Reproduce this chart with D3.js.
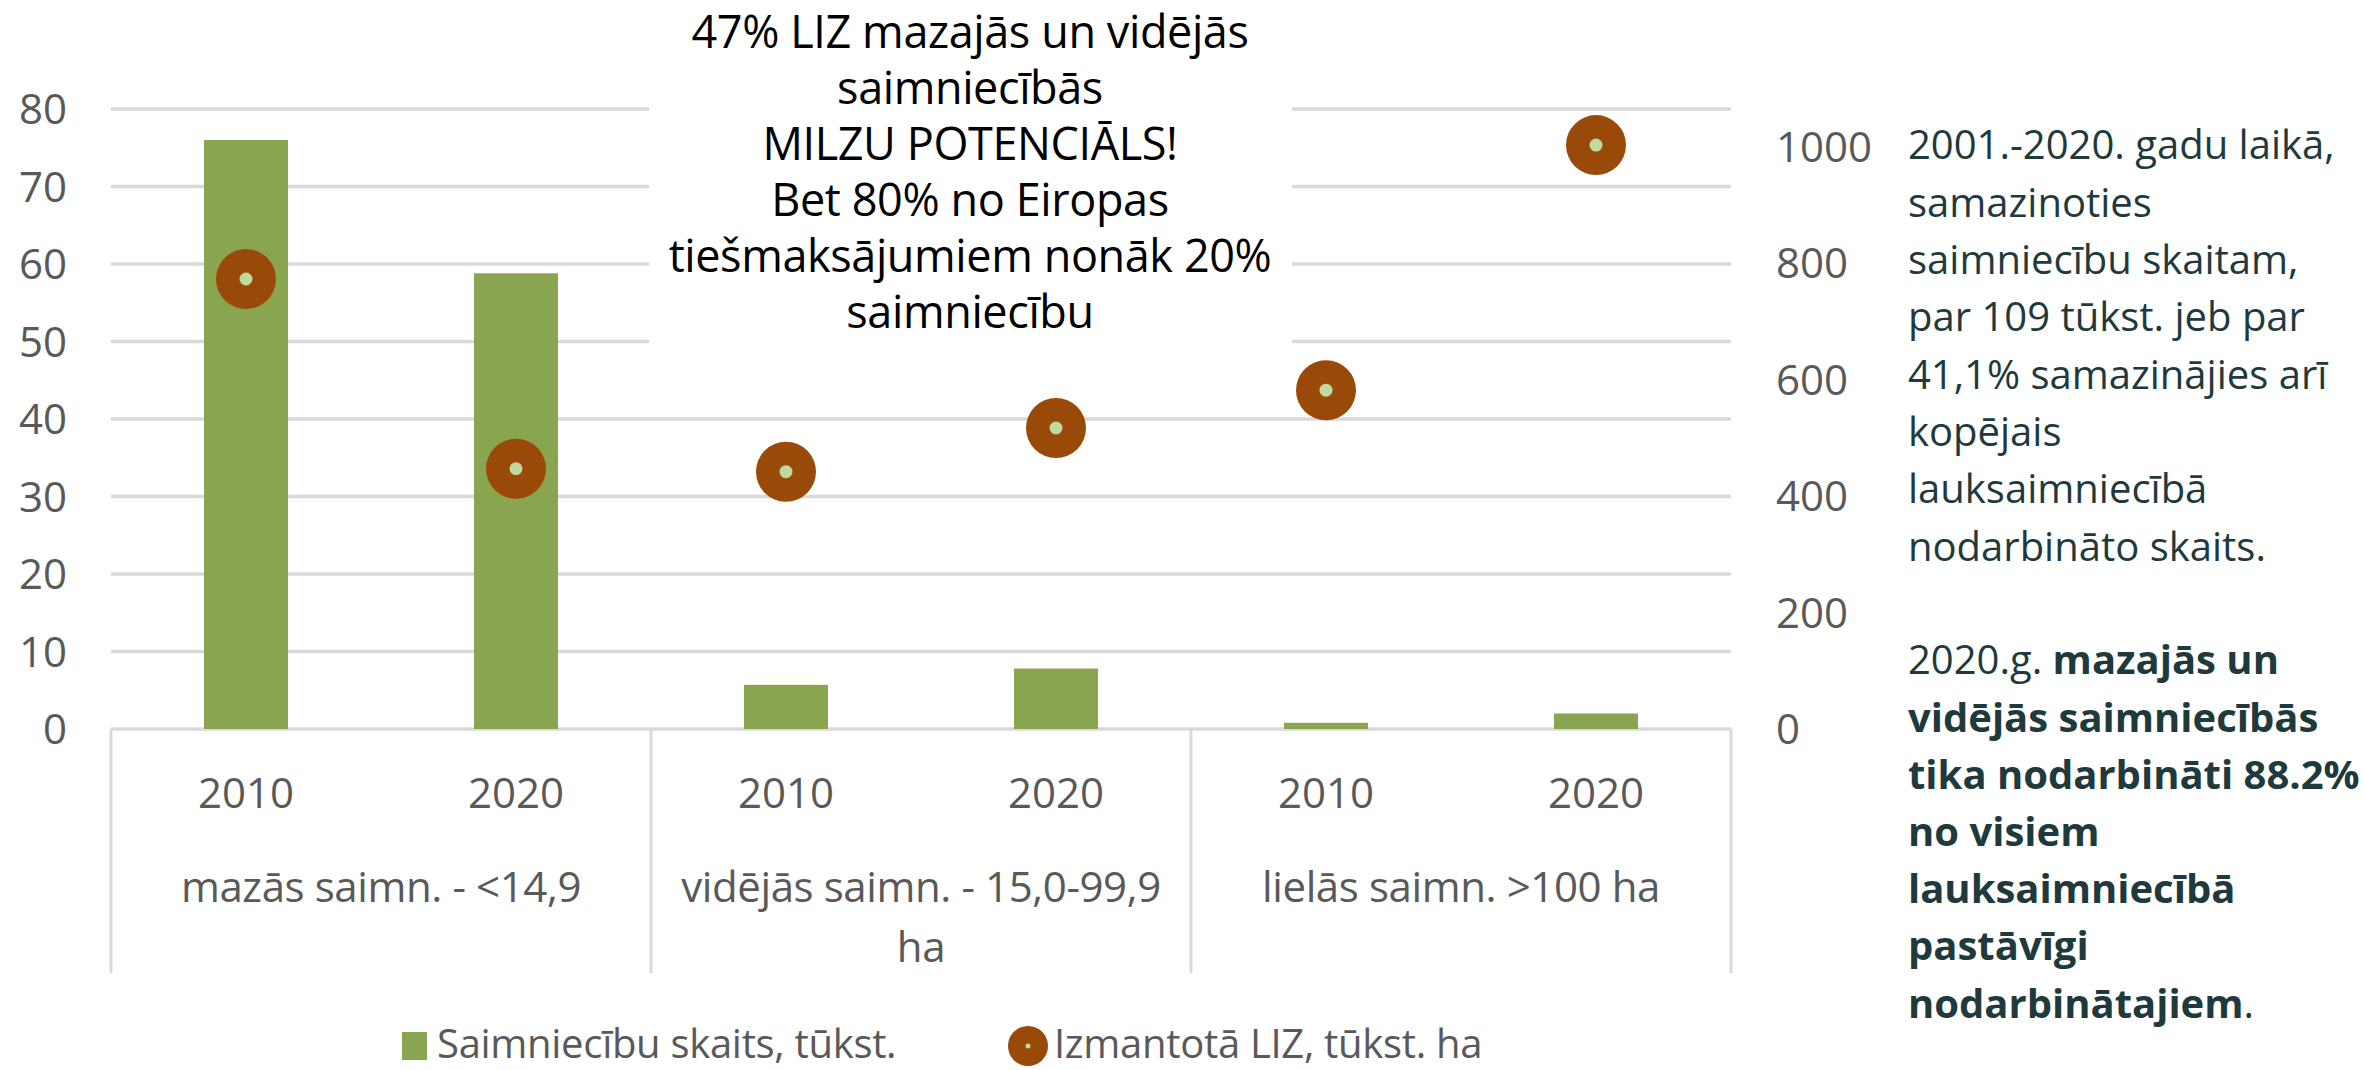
<!DOCTYPE html>
<html lang="lv">
<head>
<meta charset="UTF-8">
<script src="https://cdn.jsdelivr.net/npm/d3@7"></script>
<style>
  body { margin: 0; background: #fff; }
  svg { display: block; }
  .lbl { font-family: "Open Sans", sans-serif; fill: #595959; }
  .note { font-family: "Open Sans", sans-serif; fill: #1f3a3d; }
  .head { font-family: "Open Sans", sans-serif; fill: #000; }
</style>
</head>
<body>
<script>
// size groups and years (two levels of the category axis)
var groupLabels = [["mazās saimn. - <14,9"], ["vidējās saimn. - 15,0-99,9", "ha"], ["lielās saimn. >100 ha"]];
var years = ["2010", "2020"];

// series, one value per group/year, in that order
var farms = [76.0, 58.8, 5.7, 7.8, 0.8, 2.0];   // Saimniecību skaits, tūkst.
var land  = [773, 447, 442, 517, 582, 1003];    // Izmantotā LIZ, tūkst. ha

var leftTicks = [0, 10, 20, 30, 40, 50, 60, 70, 80];
var rightTicks = [0, 200, 400, 600, 800, 1000];

var seriesNames = ["Saimniecību skaits, tūkst.", "Izmantotā LIZ, tūkst. ha"];

var headLines = ["47% LIZ mazajās un vidējās", "saimniecībās", "MILZU POTENCIĀLS!",
                 "Bet 80% no Eiropas", "tiešmaksājumiem nonāk 20%", "saimniecību"];
var noteLines = ["2001.-2020. gadu laikā,", "samazinoties", "saimniecību skaitam,",
                 "par 109 tūkst. jeb par", "41,1% samazinājies arī", "kopējais",
                 "lauksaimniecībā", "nodarbināto skaits."];
// second paragraph: [normal part, bold part, tail] per line
var note2Lines = [["2020.g. ", "mazajās un"], ["", "vidējās saimniecībās"],
                  ["", "tika nodarbināti 88.2%"], ["", "no visiem"], ["", "lauksaimniecībā"],
                  ["", "pastāvīgi"], ["", "nodarbinātajiem", "."]];

var W = 2364, H = 1070;
var pL = 111, pR = 1731, pT = 109, pB = 729;

var svg = d3.select("body").append("svg")
    .attr("width", W).attr("height", H);

var cats = d3.range(farms.length);
var x = d3.scaleBand().domain(cats).range([pL, pR]);
var yL = d3.scaleLinear().domain([0, 80]).range([pB, pT]);
var yR = d3.scaleLinear().domain([0, 1065]).range([pB, pT]);
var barW = 84;

// gridlines
svg.append("g").selectAll("line").data(leftTicks).join("line")
    .attr("x1", pL).attr("x2", pR)
    .attr("y1", function(d) { return yL(d); }).attr("y2", function(d) { return yL(d); })
    .attr("stroke", "#d9d9d9").attr("stroke-width", 3.5);

// left axis labels
svg.append("g").selectAll("text").data(leftTicks).join("text")
    .attr("class", "lbl").attr("font-size", 42)
    .attr("x", 67).attr("y", function(d) { return yL(d); })
    .attr("dy", "0.36em").attr("text-anchor", "end")
    .text(function(d) { return d; });

// right axis labels
svg.append("g").selectAll("text").data(rightTicks).join("text")
    .attr("class", "lbl").attr("font-size", 42)
    .attr("x", 1776).attr("y", function(d) { return yR(d); })
    .attr("dy", "0.36em")
    .text(function(d) { return d; });

// bars
svg.append("g").selectAll("rect").data(farms).join("rect")
    .attr("x", function(d, i) { return x(i) + (x.bandwidth() - barW) / 2; })
    .attr("width", barW)
    .attr("y", function(d) { return yL(d); })
    .attr("height", function(d) { return yL(0) - yL(d); })
    .attr("fill", "#8aa54f");

// category axis: separators, years and group labels
var step = x.step() * years.length;
var seps = d3.range(groupLabels.length + 1);
svg.append("g").selectAll("line").data(seps).join("line")
    .attr("x1", function(d) { return pL + d * step; })
    .attr("x2", function(d) { return pL + d * step; })
    .attr("y1", pB).attr("y2", 973)
    .attr("stroke", "#d9d9d9").attr("stroke-width", 3);

svg.append("g").selectAll("text").data(cats).join("text")
    .attr("class", "lbl").attr("font-size", 42)
    .attr("x", function(d) { return x(d) + x.bandwidth() / 2; })
    .attr("y", 793).attr("dy", "0.36em").attr("text-anchor", "middle")
    .text(function(d) { return years[d % years.length]; });

var gl = svg.append("g").selectAll("text").data(groupLabels).join("text")
    .attr("class", "lbl").attr("font-size", 42).attr("text-anchor", "middle")
    .attr("letter-spacing", -0.4);
gl.selectAll("tspan").data(function(d, i) { return d.map(function(s) { return {s: s, i: i}; }); })
    .join("tspan")
    .attr("x", function(d) { return pL + step * (d.i + 0.5); })
    .attr("y", function(d, j) { return 887 + j * 60; })
    .attr("dy", "0.36em")
    .text(function(d) { return d.s; });

// legend
var lg = svg.append("g");
lg.append("rect").attr("x", 402).attr("y", 1032).attr("width", 25).attr("height", 28).attr("fill", "#8aa54f");
lg.append("text").attr("class", "lbl").attr("font-size", 40).attr("letter-spacing", -0.3)
    .attr("x", 437).attr("y", 1044).attr("dy", "0.36em").text(seriesNames[0]);
lg.append("circle").attr("cx", 1028).attr("cy", 1046).attr("r", 20).attr("fill", "#9a4a08");
lg.append("circle").attr("cx", 1028).attr("cy", 1046).attr("r", 2.5).attr("fill", "#bfd9a0");
lg.append("text").attr("class", "lbl").attr("font-size", 40).attr("letter-spacing", -0.3)
    .attr("x", 1054).attr("y", 1044).attr("dy", "0.36em").text(seriesNames[1]);

// heading text box in the middle (covers the gridlines behind it)
svg.append("rect").attr("x", 649).attr("y", 0).attr("width", 643).attr("height", 370)
    .attr("fill", "#fff");

// points sit above the box
var pts = svg.append("g").selectAll("g").data(land).join("g")
    .attr("transform", function(d, i) { return "translate(" + (x(i) + x.bandwidth() / 2) + "," + yR(d) + ")"; });
pts.append("circle").attr("r", 30).attr("fill", "#9a4a08");
pts.append("circle").attr("r", 6.5).attr("fill", "#bfd9a0");

svg.append("g").selectAll("text").data(headLines).join("text")
    .attr("class", "head").attr("font-size", 45).attr("text-anchor", "middle")
    .attr("letter-spacing", -0.4)
    .attr("x", 970).attr("y", function(d, i) { return 32 + i * 56; })
    .attr("dy", "0.36em").text(function(d) { return d; });

// notes on the right
svg.append("g").selectAll("text").data(noteLines).join("text")
    .attr("class", "note").attr("font-size", 40)
    .attr("x", 1908).attr("y", function(d, i) { return 145 + i * 57.3; })
    .attr("dy", "0.36em").text(function(d) { return d; });

var n2 = svg.append("g").selectAll("text").data(note2Lines).join("text")
    .attr("class", "note").attr("font-size", 40)
    .attr("x", 1908).attr("y", function(d, i) { return 660 + i * 57.2; })
    .attr("dy", "0.36em");
n2.append("tspan").text(function(d) { return d[0]; });
n2.append("tspan").attr("font-weight", "bold").text(function(d) { return d[1]; });
n2.append("tspan").text(function(d) { return d[2] || ""; });
</script>
</body>
</html>
